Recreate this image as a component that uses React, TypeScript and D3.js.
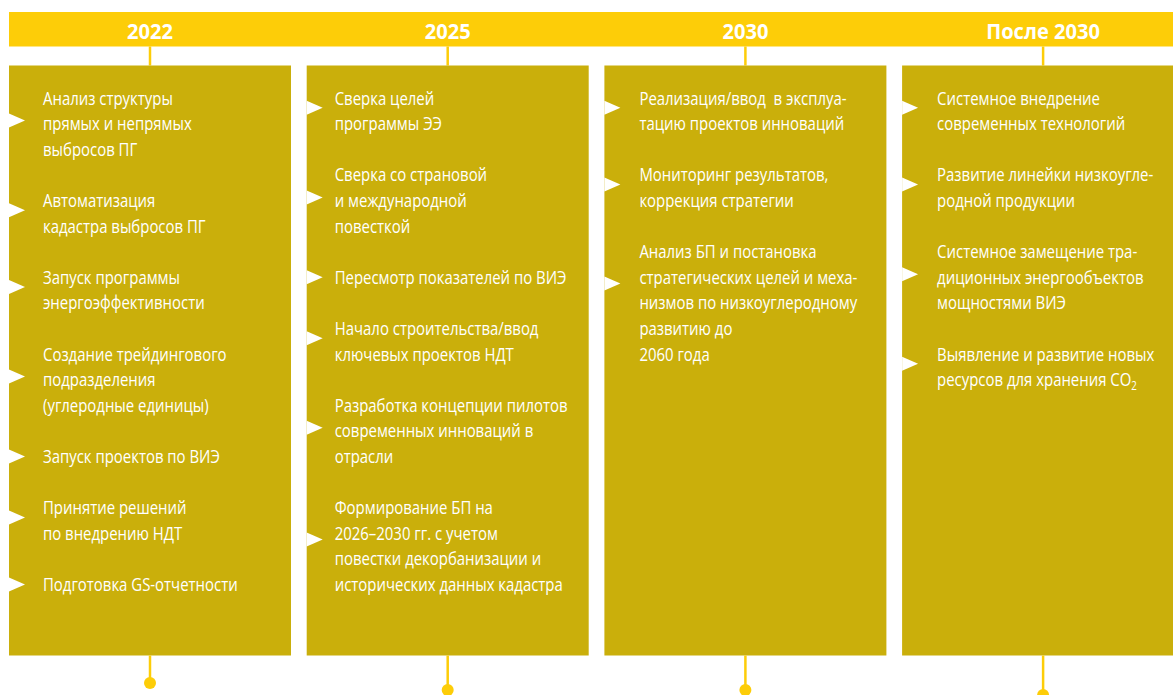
import React, { useMemo } from 'react';
import * as d3 from 'd3';

// ---- data ----
const years = ['2022', '2025', '2030', 'После 2030'];

const items2022: string[][] = [
  ['Анализ структуры', 'прямых и непрямых', 'выбросов ПГ'],
  ['Автоматизация', 'кадастра выбросов ПГ'],
  ['Запуск программы', 'энергоэффективности'],
  ['Создание трейдингового', 'подразделения', '(углеродные единицы)'],
  ['Запуск проектов по ВИЭ'],
  ['Принятие решений', 'по внедрению НДТ'],
  ['Подготовка GS-отчетности'],
];
const items2025: string[][] = [
  ['Сверка целей', 'программы ЭЭ'],
  ['Сверка со страновой', 'и международной', 'повесткой'],
  ['Пересмотр показателей по ВИЭ'],
  ['Начало строительства/ввод', 'ключевых проектов НДТ'],
  ['Разработка концепции пилотов', 'современных инноваций в', 'отрасли'],
  ['Формирование БП на', '2026–2030 гг. с учетом', 'повестки декорбанизации и', 'исторических данных кадастра'],
];
const items2030: string[][] = [
  ['Реализация/ввод  в эксплуа-', 'тацию проектов инноваций'],
  ['Мониторинг результатов,', 'коррекция стратегии'],
  ['Анализ БП и постановка', 'стратегических целей и меха-', 'низмов по низкоуглеродному', 'развитию до', '2060 года'],
];
const itemsAfter2030: string[][] = [
  ['Системное внедрение', 'современных технологий'],
  ['Развитие линейки низкоугле-', 'родной продукции'],
  ['Системное замещение тра-', 'диционных энергообъектов', 'мощностями ВИЭ'],
  ['Выявление и развитие новых', 'ресурсов для хранения CO_2'],
];
const columnItems = [items2022, items2025, items2030, itemsAfter2030];

// ---- layout / style ----
const W = 1173;
const H = 695;
const BAND_COLOR = '#FDCD08';
const BOX_COLOR = '#CAAF0B';
const FONT_NAME = 'Open Sans';
const FONT = '"Open Sans", "Noto Sans", sans-serif';
const BODY_SIZE = 18.5;
const BODY_WEIGHT = 500;
const YEAR_SIZE = 22;
const TEXT_INSET = [34, 28, 35, 35];
const DOT_Y = [683, 690, 690, 695];

const x = d3
  .scaleBand<string>()
  .domain(years)
  .range([9, 9 + 3 * 297.7 + 282])
  .paddingInner(15.7 / 297.7)
  .paddingOuter(0);
const lineY = d3.scaleLinear().domain([0, 1]).range([104.5, 130.1]); // baseline by line index
const BAND_TOP = 12;
const BAND_BOTTOM = 46.5;
const BOX_TOP = 65.5;
const BOX_BOTTOM = 655.5;

function measure(text: string, font: string): number {
  const c = document.createElement('canvas');
  const ctx = c.getContext('2d')!;
  ctx.font = font;
  return ctx.measureText(text).width;
}

function renderLine(s: string) {
  const parts = s.split('_');
  if (parts.length === 1) return s;
  return (
    <>
      {parts[0]}
      <tspan fontSize={12} dy={4}>{parts[1]}</tspan>
    </>
  );
}

export default function App() {
  const { bodySx, yearSx } = useMemo(() => {
    const wb = measure('Анализ структуры', `${BODY_WEIGHT} ${BODY_SIZE}px "${FONT_NAME}"`);
    const wy = measure('2022', `bold ${YEAR_SIZE}px "${FONT_NAME}"`);
    return { bodySx: wb > 0 ? 130 / wb : 0.8, yearSx: wy > 0 ? 46 / wy : 0.8 };
  }, []);

  return (
    <div style={{ position: 'absolute', left: 0, top: 0, width: W, height: H, overflow: 'hidden', background: '#fff' }}>
      <svg width={W} height={H} style={{ display: 'block' }}>
        <rect x={9} y={BAND_TOP} width={W - 9} height={BAND_BOTTOM - BAND_TOP} fill={BAND_COLOR} />
        {years.map((yr, ci) => {
          const left = x(yr)!;
          const bw = x.bandwidth();
          const cx = left + bw / 2;
          let lineIdx = 0;
          const blocks = columnItems[ci].map((lines) => {
            const start = lineIdx;
            lineIdx += lines.length + 1;
            return { lines, start };
          });
          return (
            <g key={yr}>
              <g transform={`translate(${cx},38.5) scale(${yearSx},1)`}>
                <text x={0} y={0} textAnchor="middle" fill="#fff" fontFamily={FONT} fontWeight="bold" fontSize={YEAR_SIZE}>
                  {yr}
                </text>
              </g>
              <line x1={cx} x2={cx} y1={BAND_BOTTOM} y2={BOX_TOP} stroke={BAND_COLOR} strokeWidth={2.5} />
              <rect x={left} y={BOX_TOP} width={bw} height={BOX_BOTTOM - BOX_TOP} fill={BOX_COLOR} />
              <line x1={cx} x2={cx} y1={BOX_BOTTOM} y2={DOT_Y[ci]} stroke={BAND_COLOR} strokeWidth={2.5} />
              <circle cx={cx} cy={DOT_Y[ci]} r={6} fill={BAND_COLOR} />
              {blocks.map((b, bi) => {
                const firstCenter = lineY(b.start) - 6.5;
                const off = Math.min(((b.lines.length - 1) * (lineY(1) - lineY(0))) / 2 - 3, 32);
                const ty = firstCenter + Math.max(off, 0);
                return (
                  <g key={bi}>
                    <path d={`M${left},${ty - 7}L${left + 16},${ty}L${left},${ty + 7}Z`} fill="#fff" />
                    {b.lines.map((ln, li) => (
                      <g key={li} transform={`translate(${left + TEXT_INSET[ci]},${lineY(b.start + li)}) scale(${bodySx},1)`}>
                        <text
                          x={0}
                          y={0}
                          fill="#fff"
                          fontFamily={FONT}
                          fontWeight={BODY_WEIGHT}
                          fontSize={BODY_SIZE}
                          style={{ whiteSpace: 'pre' }}
                        >
                          {renderLine(ln)}
                        </text>
                      </g>
                    ))}
                  </g>
                );
              })}
            </g>
          );
        })}
      </svg>
    </div>
  );
}
